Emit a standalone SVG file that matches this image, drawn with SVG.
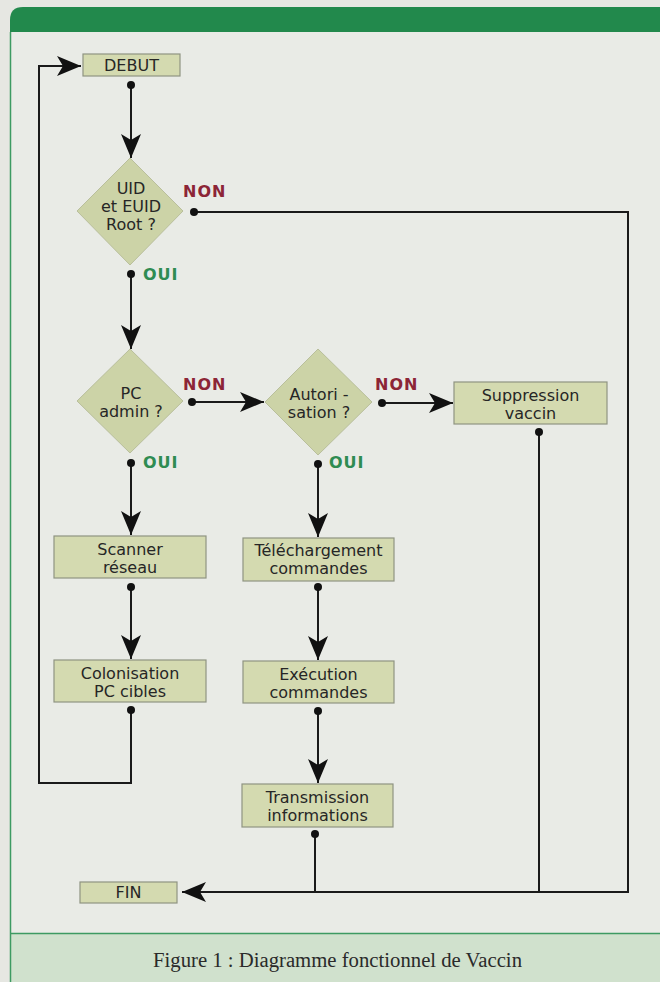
<svg xmlns="http://www.w3.org/2000/svg" width="660" height="982" viewBox="0 0 660 982">
  <style>
    .box { fill: #d4dab0; stroke: #8f9482; stroke-width: 1.2; }
    .dia { fill: #ccd3a7; stroke: #b9bf9c; stroke-width: 1; }
    .lbl { font-family: "DejaVu Sans", Verdana, sans-serif; font-size: 16px; fill: #262626; text-anchor: middle; }
    .non { font-family: "DejaVu Sans", Verdana, sans-serif; font-size: 16px; font-weight: bold; fill: #8c2536; letter-spacing: 1px; }
    .oui { font-family: "DejaVu Sans", Verdana, sans-serif; font-size: 16px; font-weight: bold; fill: #2f8c52; letter-spacing: 1px; }
    .wire { fill: none; stroke: #1a1a1a; stroke-width: 2; }
    .dot { fill: #111111; }
    .cap { font-family: "Liberation Serif", "Times New Roman", serif; font-size: 20px; fill: #2a2a2a; }
  </style>
  <defs>
    <marker id="head" markerUnits="userSpaceOnUse" markerWidth="24" markerHeight="20" viewBox="0 0 24 20" refX="24" refY="10" orient="auto">
      <path d="M0,0 L24,10 L0,20 L6,10 Z" fill="#111111"/>
    </marker>
  </defs>

  <!-- page and frame -->
  <rect x="0" y="0" width="660" height="982" fill="#e6e7e2"/>
  <rect x="10" y="32" width="650" height="902" fill="#e9ebe6"/>
  <path d="M10,32 L10,20 Q10,7 23,7 L660,7 L660,32 Z" fill="#22894c"/>
  <rect x="10" y="934" width="650" height="48" fill="#d0e1cd"/>
  <line x1="10" y1="933.5" x2="660" y2="933.5" stroke="#3d9a62" stroke-width="1.5"/>
  <line x1="10.5" y1="32" x2="10.5" y2="982" stroke="#3d9a62" stroke-width="1.5"/>

  <!-- connectors -->
  <g id="connectors">
    <path class="wire" d="M131,85 L131,158" marker-end="url(#head)"/>
    <path class="wire" d="M131,274 L131,349" marker-end="url(#head)"/>
    <path class="wire" d="M194,212 L628,212 L628,892 L182,892" marker-end="url(#head)"/>
    <path class="wire" d="M192,402 L264,402" marker-end="url(#head)"/>
    <path class="wire" d="M131,463 L131,535" marker-end="url(#head)"/>
    <path class="wire" d="M382,403 L453,403" marker-end="url(#head)"/>
    <path class="wire" d="M318,464 L318,537" marker-end="url(#head)"/>
    <path class="wire" d="M539,432 L539,892"/>
    <path class="wire" d="M131,587 L131,659" marker-end="url(#head)"/>
    <path class="wire" d="M131,710 L131,783 L39,783 L39,66 L81,66" marker-end="url(#head)"/>
    <path class="wire" d="M318,587 L318,660" marker-end="url(#head)"/>
    <path class="wire" d="M318,711 L318,783" marker-end="url(#head)"/>
    <path class="wire" d="M315,834 L315,892"/>
    <circle class="dot" cx="131" cy="85" r="4"/>
    <circle class="dot" cx="131" cy="274" r="4"/>
    <circle class="dot" cx="194" cy="212" r="4"/>
    <circle class="dot" cx="192" cy="402" r="4"/>
    <circle class="dot" cx="131" cy="463" r="4"/>
    <circle class="dot" cx="382" cy="403" r="4"/>
    <circle class="dot" cx="318" cy="464" r="4"/>
    <circle class="dot" cx="539" cy="432" r="4"/>
    <circle class="dot" cx="131" cy="587" r="4"/>
    <circle class="dot" cx="131" cy="710" r="4"/>
    <circle class="dot" cx="318" cy="587" r="4"/>
    <circle class="dot" cx="318" cy="711" r="4"/>
    <circle class="dot" cx="315" cy="834" r="4"/>
    <text class="non" x="183" y="197">NON</text>
    <text class="oui" x="143" y="280">OUI</text>
    <text class="non" x="183" y="390">NON</text>
    <text class="oui" x="143" y="468">OUI</text>
    <text class="non" x="375" y="390">NON</text>
    <text class="oui" x="329" y="468">OUI</text>
  </g>

  <!-- nodes -->
  <g id="debut">
    <rect class="box" x="83" y="54" width="97" height="22"/>
    <text class="lbl" x="131.5" y="71">DEBUT</text>
  </g>
  <g id="uid-root">
    <polygon class="dia" points="130,158 183,211 130,265 77,211"/>
    <text class="lbl" x="131" y="194">UID</text>
    <text class="lbl" x="131" y="212">et EUID</text>
    <text class="lbl" x="131" y="230">Root ?</text>
  </g>
  <g id="pc-admin">
    <polygon class="dia" points="130,349 183,401 130,453 77,401"/>
    <text class="lbl" x="131" y="399">PC</text>
    <text class="lbl" x="131" y="417">admin ?</text>
  </g>
  <g id="autorisation">
    <polygon class="dia" points="318,349 372,402 318,455 265,402"/>
    <text class="lbl" x="319" y="400">Autori -</text>
    <text class="lbl" x="319" y="418">sation ?</text>
  </g>
  <g id="suppression">
    <rect class="box" x="454" y="382" width="153" height="42"/>
    <text class="lbl" x="530.5" y="401">Suppression</text>
    <text class="lbl" x="530.5" y="419">vaccin</text>
  </g>
  <g id="scanner">
    <rect class="box" x="54" y="536" width="152" height="42"/>
    <text class="lbl" x="130" y="555">Scanner</text>
    <text class="lbl" x="130" y="573">réseau</text>
  </g>
  <g id="colonisation">
    <rect class="box" x="54" y="660" width="152" height="42"/>
    <text class="lbl" x="130" y="679">Colonisation</text>
    <text class="lbl" x="130" y="697">PC cibles</text>
  </g>
  <g id="telechargement">
    <rect class="box" x="243" y="538" width="151" height="43"/>
    <text class="lbl" x="318.5" y="556">Téléchargement</text>
    <text class="lbl" x="318.5" y="574">commandes</text>
  </g>
  <g id="execution">
    <rect class="box" x="243" y="661" width="151" height="42"/>
    <text class="lbl" x="318.5" y="680">Exécution</text>
    <text class="lbl" x="318.5" y="698">commandes</text>
  </g>
  <g id="transmission">
    <rect class="box" x="242" y="784" width="151" height="43"/>
    <text class="lbl" x="317.5" y="803">Transmission</text>
    <text class="lbl" x="317.5" y="821">informations</text>
  </g>
  <g id="fin">
    <rect class="box" x="80" y="882" width="97" height="21"/>
    <text class="lbl" x="128.5" y="898">FIN</text>
  </g>

  <!-- caption -->
  <text class="cap" x="153" y="967" textLength="369" lengthAdjust="spacingAndGlyphs">Figure 1 : Diagramme fonctionnel de Vaccin</text>
</svg>
